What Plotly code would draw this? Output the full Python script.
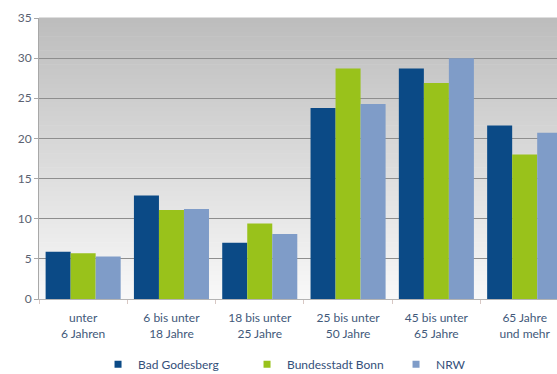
import plotly.graph_objects as go

# Altersgruppen und Anteile (%)
categories = ["unter<br>6 Jahren", "6 bis unter<br>18 Jahre", "18 bis unter<br>25 Jahre",
              "25 bis unter<br>50 Jahre", "45 bis unter<br>65 Jahre", "65 Jahre<br>und mehr"]
bad_godesberg = [5.9, 12.9, 7.0, 23.8, 28.7, 21.6]
bonn = [5.7, 11.1, 9.4, 28.7, 26.9, 18.0]
nrw = [5.3, 11.2, 8.1, 24.3, 30.0, 20.7]
y_ticks = [0, 5, 10, 15, 20, 25, 30, 35]

series = [
    ("Bad Godesberg", bad_godesberg, "#0b4a86"),
    ("Bundesstadt Bonn", bonn, "#99c21b"),
    ("NRW", nrw, "#7f9cc8"),
]

fig = go.Figure()
for name, vals, col in series:
    fig.add_trace(go.Bar(x=categories, y=vals, name=name, marker_color=col,
                         marker_line_width=0, legendgroup=name, showlegend=False))
    # small square legend key for the series
    fig.add_trace(go.Scatter(x=[None], y=[None], mode="markers", name=name,
                             legendgroup=name,
                             marker=dict(symbol="square", size=7, color=col)))

# vertical grey gradient behind the plot area
n = 60
top, bottom = 0xbc, 0xf9
for i in range(n):
    c = round(bottom + (top - bottom) * (i + 0.5) / n)
    fig.add_shape(type="rect", xref="x domain", yref="y domain",
                  x0=0, x1=1, y0=i / n, y1=(i + 1) / n + 0.002,
                  fillcolor=f"rgb({c},{c},{c})", line_width=0, layer="below")

font = "Lato, 'Open Sans', sans-serif"
fig.update_layout(
    width=557, height=374,
    margin=dict(l=39, r=0, t=18, b=75),
    paper_bgcolor="white", plot_bgcolor="rgba(0,0,0,0)",
    barmode="group", bargap=0.15, bargroupgap=0,
    font=dict(family=font, size=12, color="#42597a"),
    legend=dict(orientation="h", xref="container", yref="container",
                x=0.176, xanchor="left", y=0.026, yanchor="middle",
                font=dict(size=12, color="#34507a"),
                entrywidth=104, entrywidthmode="pixels", itemwidth=30),
    xaxis=dict(range=[-0.5, 5.366], tickson="boundaries", ticks="outside", ticklen=4,
               tickcolor="#d8c8c4", showline=True, linecolor="#b4b4b4",
               showgrid=False, ticklabelstandoff=8,
               tickfont=dict(color="#42597a", size=12)),
    yaxis=dict(range=[0, 35], tickvals=y_ticks, ticks="outside", ticklen=4,
               tickcolor="#a8a8a8", showline=True, linecolor="#a8a8a8",
               gridcolor="#8e8e8e", gridwidth=1, zeroline=False,
               tickfont=dict(color="#5a6272", size=12)),
)

fig.write_html("out.html")
